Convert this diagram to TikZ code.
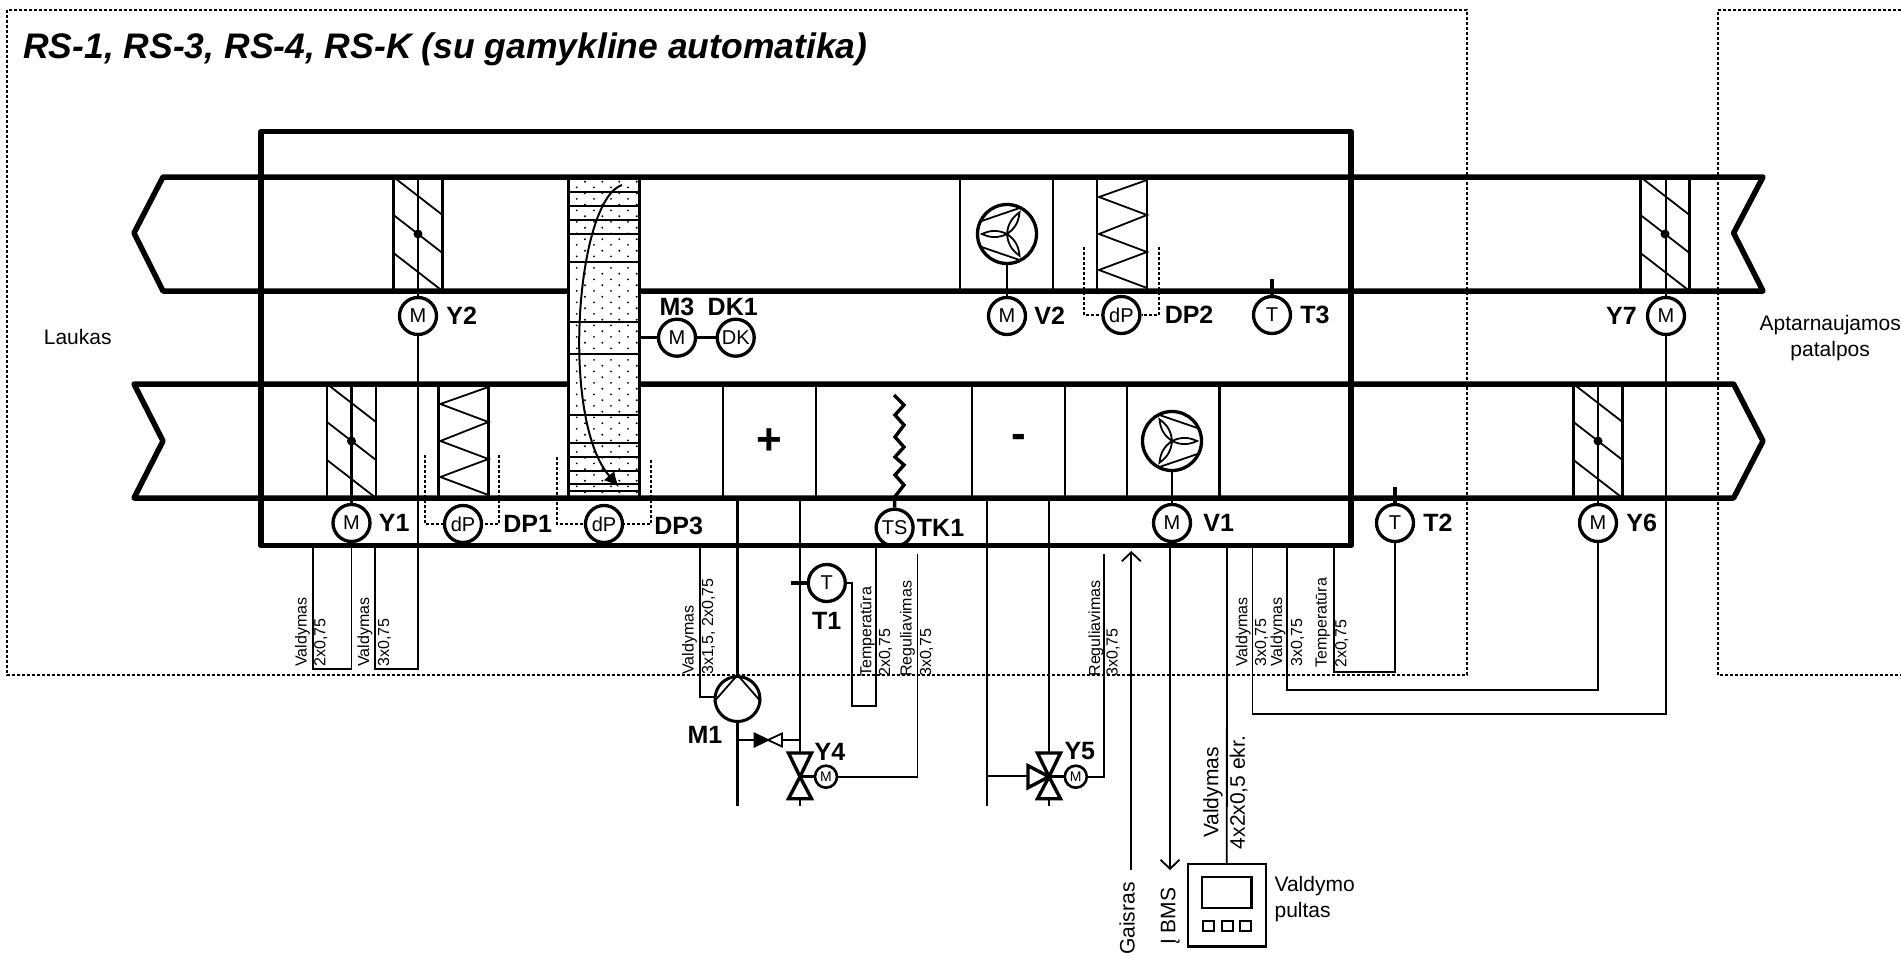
\documentclass[tikz,border=0pt]{standalone}
\usepackage{fontspec}
\setmainfont{Liberation Sans}
\usepackage{tikz}
\usetikzlibrary{positioning}
\usetikzlibrary{calc}
\usetikzlibrary{arrows.meta}

\tikzset{
    duct/.style={line width=5.5pt, line join=round},
    section/.style={line width=2.6pt},
    cable/.style={line width=1.8pt},
    pipe/.style={line width=2.2pt},
    stub/.style={line width=3.4pt},
    probe/.style={line width=1.8pt, dash pattern=on 3pt off 2pt},
    area/.style={line width=1.8pt, dash pattern=on 3pt off 2pt},
    sensor/.style={circle, draw, line width=3.3pt, inner sep=0pt, minimum size=37pt,
        font=\fontsize{20}{24}\selectfont},
    vmotor/.style={circle, draw, line width=2.6pt, inner sep=0pt, minimum size=22pt,
        font=\fontsize{14}{16}\selectfont},
    fanwheel/.style={circle, draw, line width=3.3pt, inner sep=0pt, minimum size=59pt},
    tag/.style={inner sep=0pt, font=\fontsize{25}{30}\selectfont\bfseries},
    plain/.style={inner sep=0pt, font=\fontsize{21}{25.7}\selectfont},
    cab/.style={inner sep=0pt, rotate=90, anchor=west, text height=11.5pt, text depth=3.5pt,
        font=\fontsize{16}{18}\selectfont},
    bigcab/.style={inner sep=0pt, rotate=90, anchor=west, text height=15pt, text depth=4.5pt,
        font=\fontsize{21}{24}\selectfont},
    openhead/.style={-{Straight Barb[length=9pt, width=19pt]}, line width=1.8pt}
}

\begin{document}
\begin{tikzpicture}[x=1pt, y=-1pt]
    \useasboundingbox (0,0) rectangle (1901,958);

    \draw[area] (7,10) rectangle (1467,675);
    \draw[area] (1901,10) -- (1718,10) -- (1718,675) -- (1901,675);

    \node[anchor=base west, inner sep=0pt, font=\fontsize{35.5}{40}\selectfont\bfseries\itshape] (title) at (23,59)
    {RS-1, RS-3, RS-4, RS-K (su gamykline automatika)};
    \node[plain] (laukas) at (77.7,336.7) {Laukas};
    \node[plain, align=center, anchor=east] (patalpos) at (1901,338)
    {Aptarnaujamos\\patalpos};

    \node[sensor] (Y2m) at (418,316) {M};
    \node[sensor] (Y1m) at (351.5,523) {M};
    \node[sensor] (Y7m) at (1666,316) {M};
    \node[sensor] (Y6m) at (1598,523) {M};
    \node[sensor] (V2m) at (1007,316) {M};
    \node[sensor] (V1m) at (1172,523) {M};
    \node[sensor] (dP1) at (463,524) {dP};
    \node[sensor] (dP3) at (604,524) {dP};
    \node[sensor] (dP2) at (1121.4,315) {dP};
    \node[sensor] (T3s) at (1272,315) {T};
    \node[sensor] (T2s) at (1395,523) {T};
    \node[sensor] (T1s) at (826.8,583) {T};
    \node[sensor] (TSs) at (894.6,527.7) {TS};
    \node[sensor] (M3m) at (677,337.7) {M};
    \node[sensor] (DKm) at (735.7,337.7) {DK};
    \node[fanwheel] (fan2) at (1007,234) {};
    \node[fanwheel] (fan1) at (1172,441) {};
    \node[circle, draw, line width=3pt, inner sep=0pt, minimum size=45pt] (pump) at (737.5,699) {};
    \node[vmotor] (Y4m) at (826,776.7) {M};
    \node[vmotor] (Y5m) at (1075.8,776.7) {M};
    \node[rectangle, draw, line width=2.6pt, inner sep=0pt, minimum width=78pt, minimum height=82.7pt] (pult) at (1226.8,905.4) {};

    \node[tag, right=8pt of Y2m] (Y2t) {Y2};
    \node[tag, right=7pt of Y1m] (Y1t) {Y1};
    \node[tag, left=9pt of Y7m] (Y7t) {Y7};
    \node[tag, right=8pt of Y6m] (Y6t) {Y6};
    \node[tag, right=7pt of V2m] (V2t) {V2};
    \node[tag, right=11pt of V1m] (V1t) {V1};
    \node[tag, right=20pt of dP1] (DP1t) {DP1};
    \node[tag, right=30pt of dP3, yshift=-2pt] (DP3t) {DP3};
    \node[tag, right=23pt of dP2] (DP2t) {DP2};
    \node[tag, right=8pt of T3s] (T3t) {T3};
    \node[tag, right=8pt of T2s] (T2t) {T2};
    \node[tag, below=9pt of T1s] (T1t) {T1};
    \node[tag, right=2pt of TSs] (TK1t) {TK1};
    \node[tag, above=2pt of M3m] (M3t) {M3};
    \node[tag, above=2pt of DKm, xshift=-3pt] (DK1t) {DK1};
    \node[tag] (M1t) at (705,735) {M1};
    \node[tag, above=4pt of Y4m, xshift=4pt] (Y4t) {Y4};
    \node[tag, above=4pt of Y5m, xshift=4pt] (Y5t) {Y5};
    \node[inner sep=0pt, font=\fontsize{44}{50}\selectfont\bfseries] (plus) at (769,442) {+};
    \node[inner sep=0pt, font=\fontsize{44}{50}\selectfont\bfseries] (minus) at (1019,441) {-};

    \foreach \xm/\yt in {418/177, 351.5/384, 1665/177, 1598/384} {
        \draw[section] ({\xm-24.5},\yt) -- ({\xm-24.5},{\yt+114});
        \draw[section] ({\xm+24.5},\yt) -- ({\xm+24.5},{\yt+114});
        \draw[cable] ({\xm-24.5},\yt) -- ({\xm+24.5},{\yt+38});
        \draw[cable] ({\xm-24.5},{\yt+38}) -- ({\xm+24.5},{\yt+76});
        \draw[cable] ({\xm-24.5},{\yt+76}) -- ({\xm+24.5},{\yt+114});
        \fill (\xm,{\yt+57}) circle (4.5);
    }
    \foreach \nm/\yt in {Y2m/177, Y1m/384, Y7m/177, Y6m/384} {
        \draw[section] (\nm.north) -- (\nm.north |- 0,\yt);
    }

    \foreach \xr/\yt in {488.4/384, 1147/177} {
        \draw[section] ({\xr-50},\yt) -- ({\xr-50},{\yt+114});
        \draw[section] (\xr,\yt) -- (\xr,{\yt+114});
        \draw[cable] (\xr,{\yt+3}) -- ({\xr-48},{\yt+20}) -- (\xr,{\yt+38}) -- ({\xr-48},{\yt+57})
        -- (\xr,{\yt+75}) -- ({\xr-48},{\yt+93}) -- (\xr,{\yt+111});
    }

    \foreach \nm/\xl/\xr/\yl/\yr in {dP1/425/499/455/455, dP3/557/651/457/460, dP2/1084/1159/247/247} {
        \coordinate (\nm l) at (\xl,\yl);
        \coordinate (\nm r) at (\xr,\yr);
        \draw[probe] (\nm l) |- (\nm.west);
        \draw[probe] (\nm r) |- (\nm.east);
    }

    \foreach \xx in {960, 1053} {
        \draw[section] (\xx,177) -- (\xx,291);
    }
    \foreach \xx in {722.8, 816, 972, 1065, 1127, 1219.6} {
        \draw[section] (\xx,384) -- (\xx,498);
    }

    \draw[cable] (fan2.south) -- (V2m.north);
    \draw[cable] (fan1.south) -- (V1m.north);
    \foreach \fan/\s/\a in {fan2/1/180, fan1/-1/0} {
        \draw[cable] ($(\fan)+({-27.5*\s},-12.3)$) -- ($(\fan)+({12.6*\s},-26)$);
        \draw[cable] ($(\fan)+({-27.5*\s},12.3)$) -- ($(\fan)+({12.6*\s},26)$);
        \foreach \b in {0,120,240} {
            \draw[cable, shift={(\fan.center)}, rotate=\a+\b] (0,0) to[out=25, in=155] (25,0) to[out=-155, in=-25] (0,0);
        }
    }

    \node[rectangle, draw, line width=3pt, inner sep=0pt, minimum width=71pt, minimum height=322pt] (rotor) at (604,338) {};
    \foreach \yy in {191.7, 205.7, 220, 234, 261.7, 321.7, 354.3, 415, 442.7, 456.7, 470.7, 484.3, 491} {
        \draw[cable] (567,\yy) -- (641,\yy);
    }
    \foreach \yy in {181.7, 193.2, ..., 496} {
        \foreach \xx in {585, 602.3, 619.3, 636.7} {
            \fill (\xx,\yy) circle (1.1);
        }
    }
    \foreach \yy in {187.4, 198.9, ..., 496} {
        \foreach \xx in {576.7, 594, 611, 628} {
            \fill (\xx,\yy) circle (1);
        }
    }
    \coordinate (rotorin) at (622,185);
    \coordinate (rotorout) at (619,487);
    \draw[-{Latex[length=15pt, width=14pt]}, line width=2pt] (rotorin) .. controls (576,200) and (560,420) .. (rotorout);

    \draw[stub] (rotor.east |- M3m) -- (M3m.west);
    \draw[stub] (M3m.east) -- (DKm.west);
    \draw[stub] (T3s.north) -- ++(0,-16);
    \draw[stub] (T2s.north) -- ++(0,-16);
    \draw[stub] (T1s.west) -- ++(-16,0);
    \draw[stub] (894,395) -- (904,405) -- (895,415) -- (904,425) -- (895,437) -- (904,447)
    -- (895,457) -- (904,465) -- (895,475) -- (904,485) -- (894.6,497) -- (TSs.north);

    \foreach \nm/\xx/\yy in {cY1/313/548, cY2/375/548, cM1/700/548, cT1/876/548, cY4/917.4/554,
        cY5/1104/554, cBMS/1170/548, cPult/1227/548, cY7/1252.4/548, cY6/1286.8/548, cT2/1333.7/548} {
        \coordinate (\nm) at (\xx,\yy);
    }
    \draw[cable] (cY1) |- (Y1m.south |- 0,669) -- (Y1m.south);
    \draw[cable] (cY2) |- (Y2m.south |- 0,669) -- (Y2m.south);
    \draw[cable] (cM1) |- (pump.175);
    \draw[cable] (T1s.east) -| (851.8,705.7) -| (cT1);
    \draw[cable] (Y4m.east) -| (cY4);
    \draw[cable] (Y5m.east) -| (cY5);
    \draw[cable] (cY7) |- (Y7m.south |- 0,713.7) -- (Y7m.south);
    \draw[cable] (cY6) |- (Y6m.south |- 0,689.7) -- (Y6m.south);
    \draw[cable] (cT2) |- (T2s.south |- 0,672.3) -- (T2s.south);
    \draw[cable] (cPult) -- (pult.north);
    \coordinate (bmsend) at (1170,870);
    \draw[openhead] (cBMS) -- (bmsend);
    \coordinate (gaisstart) at (1131.3,870);
    \coordinate (gaistip) at (1131.3,551);
    \draw[openhead] (gaisstart) -- (gaistip);

    \coordinate (pipeA) at (737.5,498);
    \coordinate (pipeB) at (800,498);
    \coordinate (pipeC) at (986.8,498);
    \coordinate (pipeD) at (1049,498);
    \draw[pipe] (pipeA) -- (pump.north);
    \draw[pipe] (pump.south) -- (737.5,805.7);
    \draw[pipe] (pipeB) -- (800,805.7);
    \draw[pipe] (pipeC) -- (986.8,805.7);
    \draw[pipe] (pipeD) -- (1049,805.7);
    \draw[pipe] (737.5,740) -- (800,740);
    \draw[pipe] (986.8,775.7) -- (1049,775.7);
    \draw[cable] (pump.center) ++(0,-24) -- ++(-23.5,26.7);
    \draw[cable] (pump.center) ++(0,-24) -- ++(23.5,26.7);

    \filldraw[fill=black, line width=1.8pt] (754.5,733.5) -- (754.5,746.5) -- (768,740) -- cycle;
    \filldraw[fill=white, line width=1.8pt] (782,733.5) -- (782,746.5) -- (768,740) -- cycle;

    \coordinate (Y4v) at (800,776.7);
    \coordinate (Y5v) at (1049,776.7);
    \foreach \v in {Y4v, Y5v} {
        \filldraw[fill=white, stub, shift={(\v)}] (-11.5,-23.7) -- (11.5,-23.7) -- (0,0) -- cycle;
        \filldraw[fill=white, stub, shift={(\v)}] (-11.5,22) -- (11.5,22) -- (0,0) -- cycle;
    }
    \filldraw[fill=white, stub, shift={(Y5v)}] (-21,-11) -- (-21,11) -- (0,0) -- cycle;
    \draw[stub] (Y4v) -- (Y4m.west);
    \draw[stub] (Y5v) -- (Y5m.west);

    \draw[line width=2.2pt] (1202,877.3) rectangle (1251.4,907.7);
    \foreach \xl/\xr in {1202.6/1214, 1221.8/1233, 1239.8/1251.4} {
        \draw[line width=2pt] (\xl,921) rectangle (\xr,930.7);
    }

    \node[cab] (valA) at (302.7,666.7) {Valdymas};
    \node[cab] (sizeA) at (321.4,666.7) {2x0,75};
    \node[cab] (valB) at (365,666.7) {Valdymas};
    \node[cab] (sizeB) at (385,666.7) {3x0,75};
    \node[cab] (valC) at (689.7,675) {Valdymas};
    \node[cab] (sizeC) at (709,675) {3x1,5, 2x0,75};
    \node[cab] (tempA) at (867.4,677) {Temperatūra};
    \node[cab] (sizeD) at (886,677) {2x0,75};
    \node[cab] (regA) at (907.6,677) {Reguliavimas};
    \node[cab] (sizeE) at (927,677) {3x0,75};
    \node[cab] (regB) at (1096,676.7) {Reguliavimas};
    \node[cab] (sizeF) at (1113.6,676.7) {3x0,75};
    \node[cab] (valD) at (1243.3,666.7) {Valdymas};
    \node[cab] (sizeG) at (1262,666.7) {3x0,75};
    \node[cab] (valE) at (1278,666.7) {Valdymas};
    \node[cab] (sizeH) at (1298,666.7) {3x0,75};
    \node[cab] (tempB) at (1322.7,668) {Temperatūra};
    \node[cab] (sizeI) at (1342.3,668) {2x0,75};
    \node[bigcab] (valF) at (1213,838) {Valdymas};
    \node[bigcab] (sizeJ) at (1239.5,849.3) {4x2x0,5 ekr.};
    \node[bigcab] (gaisras) at (1129.4,955) {Gaisras};
    \node[bigcab] (bms) at (1170,945) {Į BMS};
    \node[plain, anchor=west, align=left] (pultas) at (1274.4,899) {Valdymo\\pultas};

    \draw[duct] (641,291) -- (1763,291) -- (1733.6,233) -- (1763,177) -- (163,177) -- (134,233) -- (163,291) -- (567,291);
    \draw[duct] (641,384) -- (1733.6,384) -- (1763,441) -- (1733.6,498) -- (134,498) -- (163,441) -- (134,384) -- (567,384);
    \node[rectangle, draw, duct, inner sep=0pt, minimum width=1090pt, minimum height=414pt] (casing) at (806,338.7) {};
\end{tikzpicture}
\end{document}
